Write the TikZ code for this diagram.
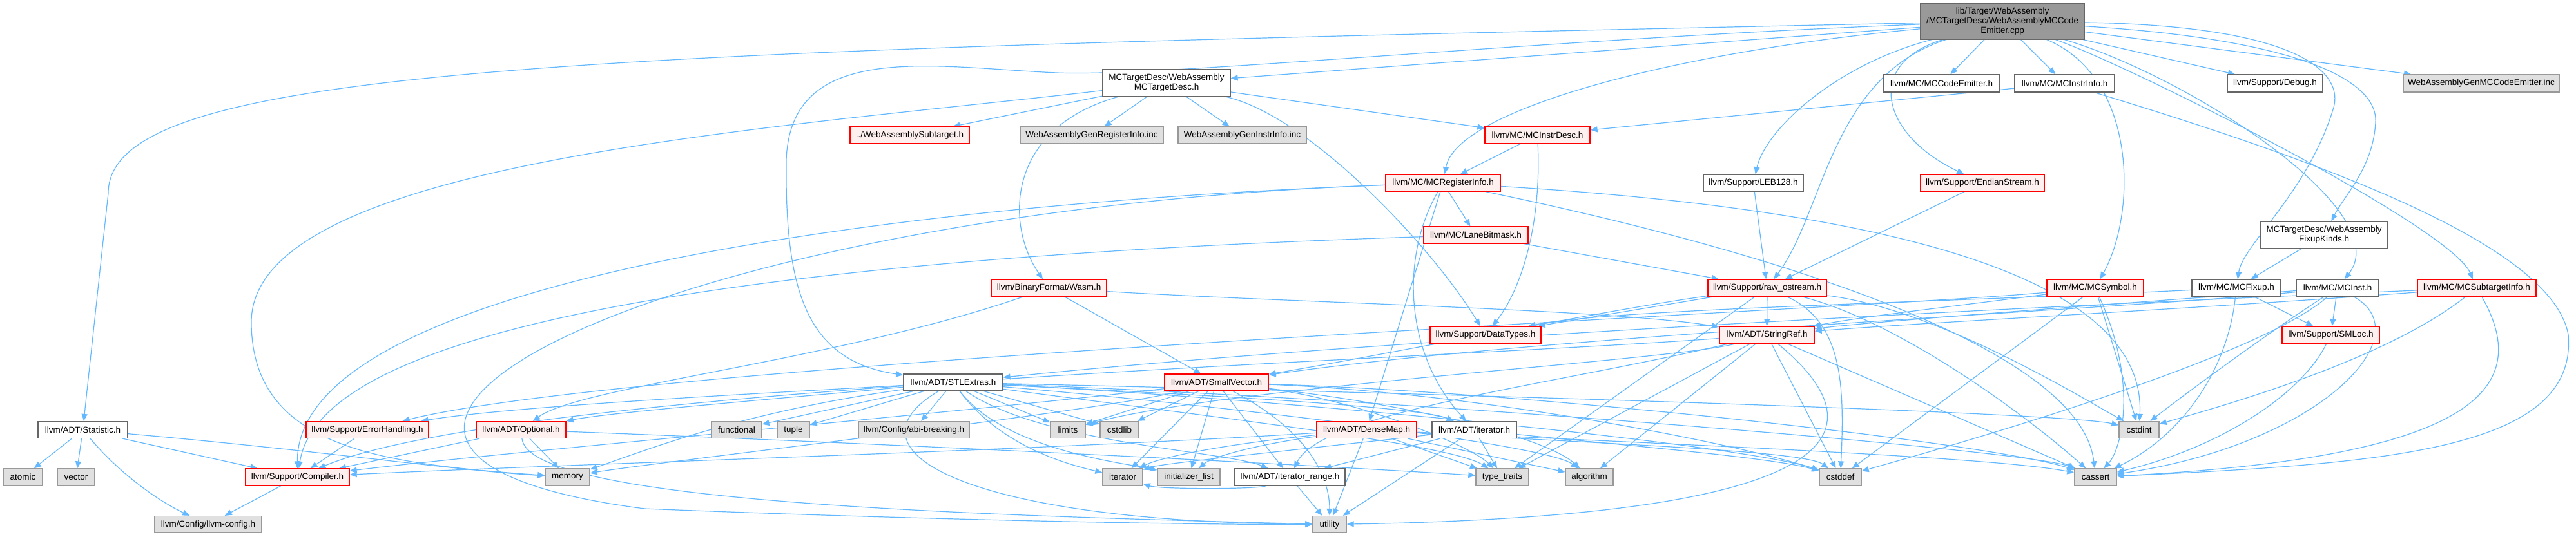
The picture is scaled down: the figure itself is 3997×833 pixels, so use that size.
\documentclass[tikz,border=0pt]{standalone}
\usepackage{fontspec}
\setmainfont{Liberation Sans}
\usetikzlibrary{arrows.meta,backgrounds}
\definecolor{edgec}{HTML}{63B8FF}
\definecolor{nborder}{HTML}{666666}
\definecolor{redfill}{HTML}{FFF0F0}
\definecolor{grayfill}{HTML}{E0E0E0}
\definecolor{grayborder}{HTML}{999999}
\definecolor{rootfill}{HTML}{999999}
\newcommand{\fsz}{\fontsize{13.5}{15}\selectfont}
\tikzset{
 box/.style={draw=nborder, fill=white, line width=1.3pt, inner sep=0pt, minimum height=26pt, font=\fsz, align=center},
 rbox/.style={box, draw=red, fill=redfill},
 gbox/.style={box, draw=grayborder, fill=grayfill},
 rootbox/.style={box, fill=rootfill},
 edge/.style={draw=edgec, line width=1.2pt, -{Triangle[length=11pt,width=9pt]}},
}
\begin{document}
\begin{tikzpicture}[x=1pt,y=-1pt]
\useasboundingbox (0,0) rectangle (3997,833);
% row 0
\node[rootbox, minimum width=254pt, minimum height=56pt] (root) at (3107,33) {lib/Target/WebAssembly\\/MCTargetDesc/WebAssemblyMCCode\\Emitter.cpp};
% row 1
\node[box, minimum width=198pt, minimum height=42pt] (tdesc) at (1810,129) {MCTargetDesc/WebAssembly\\MCTargetDesc.h};
\node[box, minimum width=179pt, minimum height=27pt] (codeemit) at (3012.5,129.5) {llvm/MC/MCCodeEmitter.h};
\node[box, minimum width=155pt, minimum height=27pt] (instrinfo) at (3203.5,129.5) {llvm/MC/MCInstrInfo.h};
\node[box, minimum width=148pt, minimum height=27pt] (debug) at (3530,129.5) {llvm/Support/Debug.h};
\node[gbox, minimum width=242pt, minimum height=27pt] (genmc) at (3850,129.5) {WebAssemblyGenMCCodeEmitter.inc};
% row 2
\node[rbox, minimum width=185pt] (subtarget) at (1411.5,210) {../WebAssemblySubtarget.h};
\node[gbox, minimum width=222pt] (genreg) at (1694,210) {WebAssemblyGenRegisterInfo.inc};
\node[gbox, minimum width=199pt] (geninstr) at (1927.5,210) {WebAssemblyGenInstrInfo.inc};
\node[rbox, minimum width=163pt] (instrdesc) at (2385.5,210) {llvm/MC/MCInstrDesc.h};
% row 3
\node[rbox, minimum width=178pt] (reginfo) at (2239,284) {llvm/MC/MCRegisterInfo.h};
\node[box, minimum width=155pt] (leb) at (2720.5,284) {llvm/Support/LEB128.h};
\node[rbox, minimum width=192pt] (endian) at (3076,284) {llvm/Support/EndianStream.h};
% row 4
\node[rbox, minimum width=162pt] (lanebit) at (2290,365) {llvm/MC/LaneBitmask.h};
\node[box, minimum width=198pt, minimum height=42pt] (fixupkinds) at (3606,365) {MCTargetDesc/WebAssembly\\FixupKinds.h};
% row 5
\node[rbox, minimum width=179pt] (wasm) at (1627.5,447) {llvm/BinaryFormat/Wasm.h};
\node[rbox, minimum width=184pt] (rawos) at (2742,447) {llvm/Support/raw\_ostream.h};
\node[rbox, minimum width=150pt] (mcsymbol) at (3251,447) {llvm/MC/MCSymbol.h};
\node[box, minimum width=138pt] (mcfixup) at (3470,447) {llvm/MC/MCFixup.h};
\node[box, minimum width=128pt] (mcinst) at (3627,447) {llvm/MC/MCInst.h};
\node[rbox, minimum width=184pt] (mcsti) at (3843,447) {llvm/MC/MCSubtargetInfo.h};
% row 6
\node[rbox, minimum width=172pt] (datatypes) at (2305,520) {llvm/Support/DataTypes.h};
\node[rbox, minimum width=147pt] (stringref) at (2741.5,520) {llvm/ADT/StringRef.h};
\node[rbox, minimum width=151pt] (smloc) at (3616.5,520) {llvm/Support/SMLoc.h};
% row 7
\node[box, minimum width=154pt] (stlextras) at (1479,594) {llvm/ADT/STLExtras.h};
\node[rbox, minimum width=161pt] (smallvec) at (1887.5,594) {llvm/ADT/SmallVector.h};
% row 8
\node[box, minimum width=139pt] (statistic) at (128.5,667.5) {llvm/ADT/Statistic.h};
\node[rbox, minimum width=190pt] (errhand) at (570,667.5) {llvm/Support/ErrorHandling.h};
\node[rbox, minimum width=139pt] (optional) at (808.5,667.5) {llvm/ADT/Optional.h};
\node[gbox, minimum width=78pt] (functional) at (1143,667.5) {functional};
\node[gbox, minimum width=50pt] (tuple) at (1231,667.5) {tuple};
\node[gbox, minimum width=172pt] (abibreak) at (1418,667.5) {llvm/Config/abi-breaking.h};
\node[gbox, minimum width=54pt] (limits) at (1657,667.5) {limits};
\node[gbox, minimum width=60pt] (cstdlib) at (1737,667.5) {cstdlib};
\node[rbox, minimum width=155pt] (densemap) at (2120.5,667.5) {llvm/ADT/DenseMap.h};
\node[box, minimum width=131pt] (iteratorh) at (2287.5,667.5) {llvm/ADT/iterator.h};
\node[gbox, minimum width=62pt] (cstdint) at (3319,667.5) {cstdint};
% row 9
\node[gbox, minimum width=61pt] (atomic) at (35.5,741) {atomic};
\node[gbox, minimum width=58pt] (vector) at (118,741) {vector};
\node[rbox, minimum width=161pt] (compiler) at (461.5,741) {llvm/Support/Compiler.h};
\node[gbox, minimum width=69pt] (memory) at (880.5,741) {memory};
\node[gbox, minimum width=62pt] (iterator) at (1742,741) {iterator};
\node[gbox, minimum width=97pt] (initlist) at (1844.5,741) {initializer\_list};
\node[box, minimum width=171pt] (itrange) at (2001.5,741) {llvm/ADT/iterator\_range.h};
\node[gbox, minimum width=82pt] (typetraits) at (2331,741) {type\_traits};
\node[gbox, minimum width=74pt] (algorithm) at (2466,741) {algorithm};
\node[gbox, minimum width=65pt] (cstddef) at (2855.5,741) {cstddef};
\node[gbox, minimum width=65pt] (cassert) at (3251.5,741) {cassert};
% row 10
\node[gbox, minimum width=166pt] (llvmconfig) at (323,814.5) {llvm/Config/llvm-config.h};
\node[gbox, minimum width=52pt] (utility) at (2063,814.5) {utility};

\begin{pgfonlayer}{background}
% ---- edges from root
\draw[edge] (root) .. controls (900,80) and (168,100) .. (168,300) -- (statistic);
\draw[edge] (root) .. controls (2400,60) and (1800,120) .. (1640,113) .. controls (1450,105) and (1225,60) .. (1220,250) .. controls (1218,450) and (1250,560) .. (stlextras);
\draw[edge] (root) -- (tdesc);
\draw[edge] (root) -- (codeemit);
\draw[edge] (root) -- (instrinfo);
\draw[edge] (root) -- (debug);
\draw[edge] (root) -- (genmc);
\draw[edge] (root) .. controls (2600,80) and (2260,170) .. (reginfo);
\draw[edge] (root) .. controls (2850,100) and (2740,200) .. (leb);
\draw[edge] (root) .. controls (2890,100) and (2920,210) .. (endian);
\draw[edge] (root) .. controls (2840,120) and (2830,330) .. (rawos);
\draw[edge] (root) .. controls (3316,120) and (3316,330) .. (mcsymbol);
\draw[edge] (root) .. controls (3560,40) and (3640,110) .. (3620,170) .. controls (3580,300) and (3480,380) .. (mcfixup);
\draw[edge] (root) .. controls (3550,60) and (3690,120) .. (3686,190) .. controls (3682,260) and (3640,300) .. (fixupkinds);
\draw[edge] (root) .. controls (3400,120) and (3720,330) .. (mcinst);
\draw[edge] (root) .. controls (3300,100) and (3800,350) .. (mcsti);
% ---- MCTargetDesc.h
\draw[edge] (tdesc) -- (subtarget);
\draw[edge] (tdesc) -- (genreg);
\draw[edge] (tdesc) -- (geninstr);
\draw[edge] (tdesc) -- (instrdesc);
\draw[edge] (tdesc) .. controls (1560,200) and (1560,350) .. (wasm);
\draw[edge] (tdesc) .. controls (2030,180) and (2220,380) .. (datatypes);
\draw[edge] (tdesc) .. controls (1200,200) and (390,250) .. (390,500) .. controls (390,700) and (600,720) .. (memory);
% ---- MCInstrInfo / MCInstrDesc
\draw[edge] (instrinfo) -- (instrdesc);
\draw[edge] (instrinfo) .. controls (3600,250) and (3960,380) .. (3985,520) .. controls (4000,700) and (3700,720) .. (cassert);
\draw[edge] (instrdesc) -- (reginfo);
\draw[edge] (instrdesc) .. controls (2392,350) and (2360,450) .. (datatypes);
% ---- MCRegisterInfo
\draw[edge] (reginfo) -- (lanebit);
\draw[edge] (reginfo) -- (densemap);
\draw[edge] (reginfo) .. controls (2172,400) and (2180,550) .. (iteratorh);
\draw[edge] (reginfo) .. controls (1300,320) and (460,450) .. (compiler);
\draw[edge] (reginfo) .. controls (3000,330) and (3330,450) .. (cstdint);
\draw[edge] (reginfo) .. controls (2800,400) and (3230,550) .. (cassert);
\draw[edge] (reginfo) .. controls (1000,330) and (300,700) .. (1000,790) .. controls (1500,810) and (1900,815) .. (utility);
% ---- LaneBitmask, LEB128, EndianStream, FixupKinds
\draw[edge] (lanebit) -- (rawos);
\draw[edge] (lanebit) .. controls (1200,400) and (500,500) .. (compiler);
\draw[edge] (leb) -- (rawos);
\draw[edge] (endian) -- (rawos);
\draw[edge] (fixupkinds) -- (mcfixup);
% ---- Wasm.h
\draw[edge] (wasm) -- (smallvec);
\draw[edge] (wasm) .. controls (2000,470) and (2500,480) .. (stringref);
\draw[edge] (wasm) .. controls (1300,560) and (900,600) .. (optional);
% ---- raw_ostream
\draw[edge] (rawos) -- (datatypes);
\draw[edge] (rawos) -- (stringref);
\draw[edge] (rawos) .. controls (2500,480) and (2100,560) .. (smallvec);
\draw[edge] (rawos) -- (typetraits);
\draw[edge] (rawos) .. controls (2860,500) and (2862,600) .. (cstddef);
\draw[edge] (rawos) .. controls (3000,480) and (3200,600) .. (cstdint);
\draw[edge] (rawos) .. controls (2950,500) and (3150,650) .. (cassert);
% ---- StringRef
\draw[edge] (stringref) -- (typetraits);
\draw[edge] (stringref) -- (algorithm);
\draw[edge] (stringref) -- (cstddef);
\draw[edge] (stringref) -- (cassert);
\draw[edge] (stringref) .. controls (2600,560) and (1900,600) .. (limits);
\draw[edge] (stringref) .. controls (2400,600) and (2050,640) .. (itrange);
\draw[edge] (stringref) .. controls (2200,560) and (800,600) .. (compiler);
\draw[edge] (stringref) .. controls (2900,650) and (2930,800) .. (utility);
% ---- SmallVector
\draw[edge] (smallvec) -- (limits);
\draw[edge] (smallvec) -- (cstdlib);
\draw[edge] (smallvec) -- (iterator);
\draw[edge] (smallvec) -- (initlist);
\draw[edge] (smallvec) -- (itrange);
\draw[edge] (smallvec) .. controls (1500,640) and (800,700) .. (compiler);
\draw[edge] (smallvec) .. controls (2200,630) and (2400,680) .. (algorithm);
\draw[edge] (smallvec) .. controls (2300,610) and (2700,690) .. (cstddef);
\draw[edge] (smallvec) .. controls (2400,610) and (3100,690) .. (cassert);
\draw[edge] (smallvec) .. controls (2100,620) and (2280,690) .. (typetraits);
\draw[edge] (smallvec) .. controls (1700,640) and (1000,720) .. (memory);
\draw[edge] (smallvec) .. controls (2050,680) and (2063,760) .. (utility);
% ---- STLExtras
\draw[edge] (stlextras) -- (functional);
\draw[edge] (stlextras) -- (tuple);
\draw[edge] (stlextras) -- (abibreak);
\draw[edge] (stlextras) -- (limits);
\draw[edge] (stlextras) -- (cstdlib);
\draw[edge] (stlextras) .. controls (1550,690) and (1650,720) .. (iterator);
\draw[edge] (stlextras) .. controls (1560,700) and (1750,720) .. (initlist);
\draw[edge] (stlextras) .. controls (1620,690) and (1900,700) .. (itrange);
\draw[edge] (stlextras) .. controls (1200,610) and (800,630) .. (errhand);
\draw[edge] (stlextras) .. controls (1200,620) and (950,640) .. (optional);
\draw[edge] (stlextras) .. controls (1150,640) and (1000,700) .. (memory);
\draw[edge] (stlextras) .. controls (1900,650) and (2250,690) .. (typetraits);
\draw[edge] (stlextras) .. controls (1900,630) and (2400,690) .. (algorithm);
\draw[edge] (stlextras) .. controls (2000,620) and (2700,690) .. (cstddef);
\draw[edge] (stlextras) .. controls (2200,610) and (3200,640) .. (cstdint);
\draw[edge] (stlextras) .. controls (2200,620) and (3150,700) .. (cassert);
\draw[edge] (stlextras) .. controls (1300,700) and (1500,810) .. (utility);
\draw[edge] (stlextras) .. controls (1800,610) and (2200,630) .. (iteratorh);
% ---- Optional, ErrorHandling, Compiler, Statistic
\draw[edge] (optional) -- (compiler);
\draw[edge] (optional) -- (memory);
\draw[edge] (optional) .. controls (820,780) and (1500,800) .. (utility);
\draw[edge] (optional) .. controls (1400,690) and (2000,720) .. (typetraits);
\draw[edge] (errhand) -- (compiler);
\draw[edge] (compiler) -- (llvmconfig);
\draw[edge] (statistic) -- (atomic);
\draw[edge] (statistic) -- (vector);
\draw[edge] (statistic) -- (compiler);
\draw[edge] (statistic) .. controls (190,740) and (250,780) .. (llvmconfig);
\draw[edge] (statistic) .. controls (500,700) and (700,730) .. (memory);
% ---- DenseMap, iterator.h, iterator_range
\draw[edge] (densemap) -- (utility);
\draw[edge] (densemap) -- (typetraits);
\draw[edge] (densemap) -- (algorithm);
\draw[edge] (densemap) .. controls (2500,690) and (2800,700) .. (cstddef);
\draw[edge] (densemap) .. controls (2600,690) and (3100,710) .. (cassert);
\draw[edge] (densemap) .. controls (1900,690) and (1800,710) .. (iterator);
\draw[edge] (densemap) .. controls (1950,690) and (1880,710) .. (initlist);
\draw[edge] (densemap) .. controls (1600,700) and (900,720) .. (compiler);
\draw[edge] (iteratorh) -- (itrange);
\draw[edge] (iteratorh) -- (typetraits);
\draw[edge] (iteratorh) .. controls (2500,690) and (2750,710) .. (cstddef);
\draw[edge] (iteratorh) .. controls (2000,700) and (1800,720) .. (iterator);
\draw[edge] (iteratorh) -- (utility);
\draw[edge] (itrange) -- (utility);
\draw[edge] (itrange) .. controls (1950,760) and (1800,760) .. (iterator);
% ---- MC headers
\draw[edge] (mcsymbol) .. controls (2900,480) and (1000,560) .. (errhand);
\draw[edge] (mcsymbol) -- (cstdint);
\draw[edge] (mcsymbol) .. controls (3320,600) and (3290,700) .. (cassert);
\draw[edge] (mcsymbol) -- (cstddef);
\draw[edge] (mcsymbol) .. controls (3000,480) and (2900,490) .. (stringref);
\draw[edge] (mcfixup) -- (smloc);
\draw[edge] (mcfixup) .. controls (3456,580) and (3380,680) .. (cassert);
\draw[edge] (mcfixup) .. controls (3000,470) and (2500,480) .. (datatypes);
\draw[edge] (mcinst) -- (smloc);
\draw[edge] (mcinst) .. controls (3500,530) and (3380,620) .. (cstdint);
\draw[edge] (mcinst) .. controls (3760,520) and (3600,690) .. (cassert);
\draw[edge] (mcinst) .. controls (3300,470) and (2900,500) .. (stringref);
\draw[edge] (mcinst) .. controls (3300,480) and (2400,520) .. (smallvec);
\draw[edge] (mcinst) .. controls (3500,560) and (3000,700) .. (cstddef);
\draw[edge] (mcsti) .. controls (3300,470) and (2200,520) .. (stlextras);
\draw[edge] (mcsti) .. controls (3400,480) and (3000,500) .. (stringref);
\draw[edge] (mcsti) .. controls (3700,560) and (3450,630) .. (cstdint);
\draw[edge] (mcsti) .. controls (3930,600) and (3850,710) .. (cassert);
\draw[edge] (smloc) .. controls (3571,613) and (3443,696) .. (cassert);
\end{pgfonlayer}
\end{tikzpicture}
\end{document}
